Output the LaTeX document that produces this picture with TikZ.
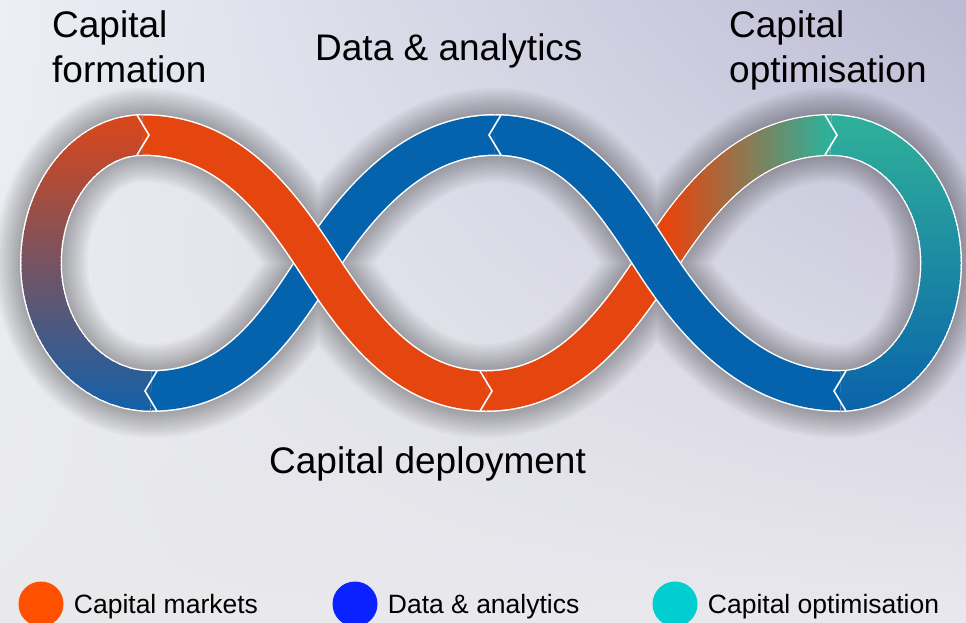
\documentclass[tikz,border=0pt]{standalone}
\usepackage{fontspec}
\setmainfont{Liberation Sans}
\usepackage{tikz}
\usetikzlibrary{positioning,shadings}

\definecolor{bgul}{HTML}{ECEFF5}
\definecolor{bgur}{HTML}{BCBAD4}
\definecolor{bgll}{HTML}{E9E9EB}
\definecolor{bglr}{HTML}{E9E8EE}
\definecolor{ribbonorange}{HTML}{E5450F}
\definecolor{ribbonblue}{HTML}{0563AE}
\definecolor{loopred}{HTML}{D9461A}
\definecolor{loopblue}{HTML}{1660A8}
\definecolor{tealtop}{HTML}{2FB09A}
\definecolor{tealbot}{HTML}{0A64AA}
\definecolor{keyorange}{HTML}{FF5000}
\definecolor{keyblue}{HTML}{0A22FF}
\definecolor{keyteal}{HTML}{00CED1}

\tikzset{
  rim/.style={draw=white, line width=42pt},
  band/.style={line width=39pt},
  chevron/.style={draw=white, line width=1.6pt, line join=miter},
  titletext/.style={inner sep=0pt, align=left, font=\fontsize{37}{45}\selectfont},
  keydot/.style={circle, minimum size=45pt, inner sep=0pt},
  keytext/.style={inner sep=0pt, font=\fontsize{26.5}{30}\selectfont},
}

\def\segleft{(J2) .. controls (90,391) and (41,334) .. (LL) .. controls (41,192) and (87,135) .. (J1)}
\def\segorange{(J1) .. controls (228,135) and (277,200) .. (C1) .. controls (359,326) and (406,391) .. (J3)}
\def\segfade{(J3) .. controls (566,391) and (615,326) .. (C2) .. controls (697,200) and (746,135) .. (J5)}
\def\segright{(J5) .. controls (892,135) and (941,192) .. (RR) .. controls (941,334) and (896,391) .. (J6)}
\def\segblueup{(J6) .. controls (755,391) and (697,326) .. (C2) .. controls (615,200) and (575,135) .. (J4)}
\def\segbluelow{(J4) .. controls (415,135) and (359,200) .. (C1) .. controls (277,326) and (236,391) .. (J2)}
\def\fullloop{(J2) .. controls (90,391) and (41,334) .. (LL) .. controls (41,192) and (87,135) .. (J1)
  .. controls (228,135) and (277,200) .. (C1) .. controls (359,326) and (406,391) .. (J3)
  .. controls (566,391) and (615,326) .. (C2) .. controls (697,200) and (746,135) .. (J5)
  .. controls (892,135) and (941,192) .. (RR) .. controls (941,334) and (896,391) .. (J6)
  .. controls (755,391) and (697,326) .. (C2) .. controls (615,200) and (575,135) .. (J4)
  .. controls (415,135) and (359,200) .. (C1) .. controls (277,326) and (236,391) .. (J2) -- cycle}

\begin{document}
\begin{tikzpicture}[x=1pt, y=-1pt]
\useasboundingbox (0,0) rectangle (966,622);
\shade[upper left=bgul, upper right=bgur, lower left=bgll, lower right=bglr] (0,0) rectangle (966,622);

\coordinate (J1) at (143,135);
\coordinate (J2) at (151,391);
\coordinate (J3) at (486,391);
\coordinate (J4) at (495,135);
\coordinate (J5) at (831,135);
\coordinate (J6) at (840,391);
\coordinate (LL) at (41,263);
\coordinate (RR) at (941,263);
\coordinate (C1) at (318,263);
\coordinate (C2) at (656,263);

% soft shadow
\foreach \w in {46,50,...,96}
  \draw[black, opacity=0.022, line width=\w pt] \fullloop;

\draw[rim] \segbluelow;
\draw[band, draw=ribbonblue] \segbluelow;

\draw[rim] \segfade;
\draw[band, draw=ribbonorange] \segfade;
\foreach \xx in {662,666,...,830}{
  \pgfmathsetmacro{\mixval}{min(100,max(0,(\xx+2-670)/(828-670)*100))}
  \begin{scope}
    \clip (\xx,0) rectangle (\xx+5,622);
    \draw[band, draw=tealtop!\mixval!ribbonorange] \segfade;
  \end{scope}
}

\draw[rim] \segleft;
\foreach \yy in {110,114,...,414}{
  \pgfmathsetmacro{\mixval}{min(100,max(0,(\yy+2-118)/(408-118)*100))}
  \begin{scope}
    \clip (0,\yy) rectangle (966,\yy+5);
    \draw[band, draw=loopblue!\mixval!loopred] \segleft;
  \end{scope}
}

\draw[rim] \segorange;
\draw[band, draw=ribbonorange] \segorange;

\draw[rim] \segright;
\foreach \yy in {110,114,...,414}{
  \pgfmathsetmacro{\mixval}{min(100,max(0,(\yy+2-118)/(408-118)*100))}
  \begin{scope}
    \clip (0,\yy) rectangle (966,\yy+5);
    \draw[band, draw=tealbot!\mixval!tealtop] \segright;
  \end{scope}
}

\draw[rim] \segblueup;
\draw[band, draw=ribbonblue] \segblueup;

% joints
\draw[chevron] (J1) ++(-6,-20) -- ++(12,20) -- ++(-12,20);
\draw[chevron] (J2) ++(6,-20) -- ++(-12,20) -- ++(12,20);
\draw[chevron] (J3) ++(-6,-20) -- ++(12,20) -- ++(-12,20);
\draw[chevron] (J4) ++(6,-20) -- ++(-12,20) -- ++(12,20);
\draw[chevron] (J5) ++(-6,-20) -- ++(12,20) -- ++(-12,20);
\draw[chevron] (J6) ++(6,-20) -- ++(-12,20) -- ++(12,20);

\node[titletext, anchor=north west] (capform) at (52,10) {Capital\\formation};
\node[titletext, anchor=base west] (dataan) at (315,60) {Data \& analytics};
\node[titletext, anchor=north west] (capopt) at (729,10) {Capital\\optimisation};
\node[titletext, anchor=base west] (capdep) at (269,473) {Capital deployment};

\node[keydot, fill=keyorange] (dotmkt) at (41,604) {};
\node[keytext, right=10pt of dotmkt, yshift=-3pt] (keymkt) {Capital markets};
\node[keydot, fill=keyblue] (dotdata) at (355,604) {};
\node[keytext, right=10pt of dotdata, yshift=-3pt] (keydata) {Data \& analytics};
\node[keydot, fill=keyteal] (dotopt) at (675,604) {};
\node[keytext, right=10pt of dotopt, yshift=-3pt] (keyopt) {Capital optimisation};
\end{tikzpicture}
\end{document}
